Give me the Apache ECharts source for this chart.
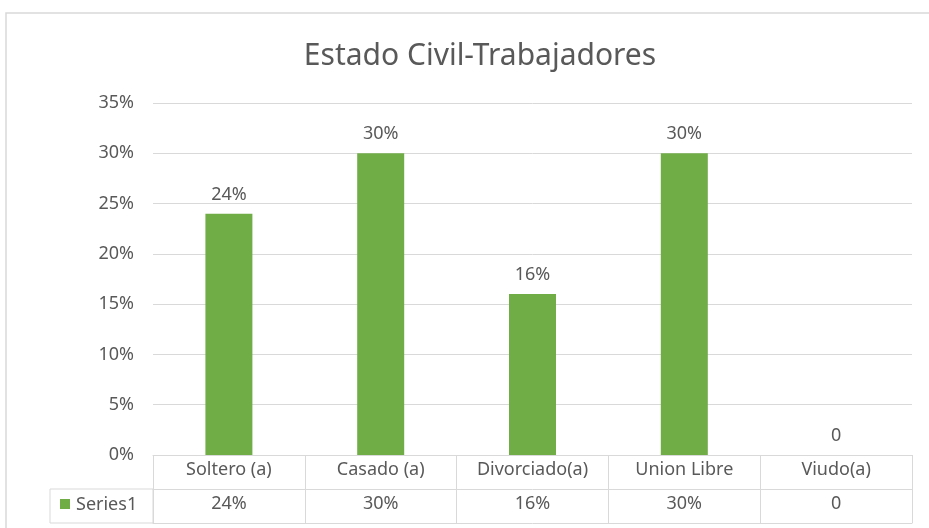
<!DOCTYPE html>
<html>
<head>
<meta charset="utf-8">
<script src="https://cdn.jsdelivr.net/npm/echarts@6/dist/echarts.min.js"></script>
<style>
  html, body { margin: 0; padding: 0; background: #fff; }
  #chart { width: 929px; height: 528px; }
</style>
</head>
<body>
<div id="chart"></div>
<script>
const categories = ['Soltero (a)', 'Casado (a)', 'Divorciado(a)', 'Union Libre', 'Viudo(a)']
const values = [0.24, 0.30, 0.16, 0.30, 0]
const yTickLabels = ['0%', '5%', '10%', '15%', '20%', '25%', '30%', '35%']
const seriesName = 'Series1'

const green = '#70AD47'
const gray = '#595959'
const lineGray = '#D9D9D9'
const font = 'Noto Sans'
const small = 18

// percent text like Excel shows it, zero stays plain "0"
function pct(v) {
  return v === 0 ? '0' : Math.round(v * 100) + '%'
}

const chart = echarts.init(document.getElementById('chart'), null, { renderer: 'canvas' })

const option = {
  backgroundColor: '#fff',
  animation: false,
  title: {
    text: 'Estado Civil-Trabajadores',
    left: 475,
    top: 36,
    textAlign: 'center',
    textStyle: { color: gray, fontSize: 30, fontWeight: 'normal', fontFamily: font }
  },
  grid: { left: 153, right: 17, top: 103, bottom: 73 },
  xAxis: [
    {
      type: 'category',
      data: categories,
      axisLine: { lineStyle: { color: lineGray } },
      axisTick: { show: true, interval: 0, length: 68, lineStyle: { color: lineGray } },
      axisLabel: { interval: 0, color: gray, fontSize: small, fontFamily: font, margin: 6 }
    },
    {
      // second table row: the values
      type: 'category',
      data: categories,
      position: 'bottom',
      offset: 34,
      axisLine: { lineStyle: { color: lineGray } },
      axisTick: { show: false },
      axisLabel: {
        interval: 0, color: gray, fontSize: small, fontFamily: font, margin: 6,
        formatter: (v, i) => pct(values[i])
      }
    },
    {
      type: 'category',
      data: categories,
      position: 'bottom',
      offset: 68,
      axisLine: { lineStyle: { color: lineGray } },
      axisTick: { show: false },
      axisLabel: { show: false }
    }
  ],
  yAxis: {
    type: 'value',
    min: 0,
    max: 0.35,
    interval: 0.05,
    axisLine: { show: false },
    axisTick: { show: false },
    splitLine: { lineStyle: { color: lineGray, width: 1 } },
    axisLabel: {
      color: gray, fontSize: small, fontFamily: font, margin: 19,
      formatter: (v, i) => yTickLabels[i]
    }
  },
  series: [
    {
      name: seriesName,
      type: 'bar',
      data: values,
      barWidth: 47,
      itemStyle: { color: green },
      label: {
        show: true,
        position: 'top',
        distance: 10,
        color: gray,
        fontSize: small,
        fontFamily: font,
        formatter: p => pct(p.value)
      }
    }
  ],
  graphic: [
    {
      type: 'rect',
      shape: { x: 6, y: 13, width: 940, height: 540 },
      style: { fill: 'none', stroke: lineGray, lineWidth: 1.5 },
      silent: true
    },
    {
      type: 'rect',
      shape: { x: 50, y: 489, width: 103, height: 34 },
      style: { fill: 'none', stroke: lineGray, lineWidth: 1 },
      silent: true
    },
    {
      type: 'rect',
      shape: { x: 60, y: 499, width: 10, height: 10 },
      style: { fill: green },
      silent: true
    },
    {
      type: 'text',
      x: 76,
      y: 505,
      style: {
        text: seriesName, fill: gray, fontSize: small, fontFamily: font,
        textVerticalAlign: 'middle'
      },
      silent: true
    }
  ]
}

chart.setOption(option)
</script>
</body>
</html>
